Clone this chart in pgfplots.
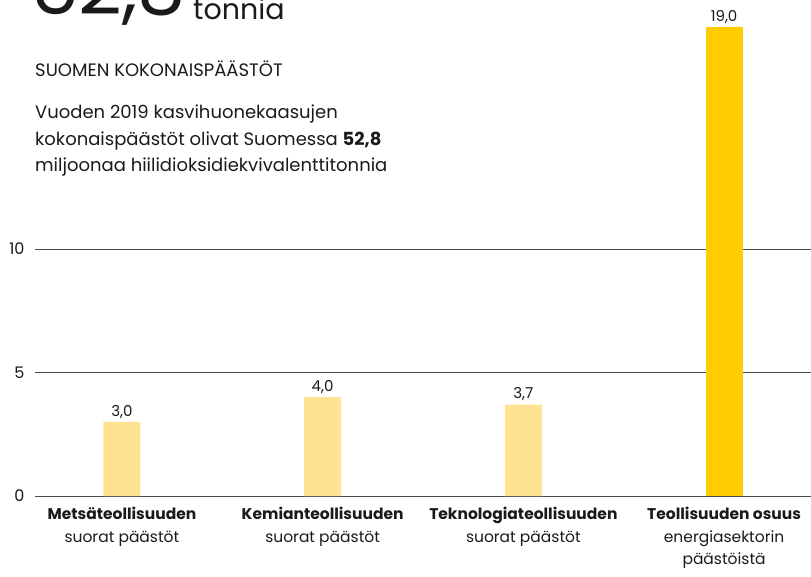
\documentclass[border=0pt]{standalone}
\usepackage{pgfplots}
\pgfplotsset{compat=1.18}
\usepackage{fontspec}
\setmainfont{Poppins}
\definecolor{barlight}{HTML}{FFE393}
\definecolor{barstrong}{HTML}{FFCC00}
\definecolor{txt}{HTML}{1A1A1A}
\begin{document}
\begin{tikzpicture}
\begin{axis}[
  at={(35bp,81bp)}, anchor=south west,
  scale only axis, width=776bp, height=494bp,
  xmin=-0.433, xmax=3.433, ymin=0, ymax=20,
  axis line style={draw=none},
  ytick={0,5,10}, ymajorgrids,
  grid style={black!70, line width=0.9bp},
  major tick length=0pt,
  xtick={0,1,2,3},
  xticklabels={{\textbf{Metsäteollisuuden}\\suorat päästöt},
               {\textbf{Kemianteollisuuden}\\suorat päästöt},
               {\textbf{Teknologiateollisuuden}\\suorat päästöt},
               {\textbf{Teollisuuden osuus}\\energiasektorin\\päästöistä}},
  xticklabel style={align=center, font=\fontsize{15.5bp}{22.5bp}\selectfont, text=txt, anchor=north, yshift=-8bp},
  yticklabel style={font=\fontsize{16bp}{17bp}\selectfont, text=txt, xshift=-7bp},
  /pgf/number format/assume math mode=true,
  clip=false,
  nodes near coords,
  nodes near coords style={font=\fontsize{15bp}{16bp}\selectfont, text=txt,
    /pgf/number format/.cd, fixed, fixed zerofill, precision=1, use comma},
]
\addplot[ybar, bar shift=0pt, bar width=37bp, fill=barlight, draw=none] coordinates {(0,3.0) (1,4.0) (2,3.7)};
\addplot[ybar, bar shift=0pt, bar width=37bp, fill=barstrong, draw=none] coordinates {(3,19.0)};
\end{axis}
\node[anchor=base west, inner sep=0pt, text=txt, font=\fontsize{76bp}{80bp}\selectfont] at (31bp,562bp) {52,8};
\node[anchor=base west, inner sep=0pt, text=txt, font=\fontsize{28.5bp}{34bp}\selectfont] at (193bp,557bp) {tonnia};
\node[anchor=base west, inner sep=0pt, text=txt, font=\fontsize{18bp}{20bp}\selectfont] at (35bp,500bp) {SUOMEN KOKONAISPÄÄSTÖT};
\node[anchor=base west, inner sep=0pt, text=txt, font=\fontsize{18bp}{20bp}\selectfont] at (35bp,458bp) {Vuoden 2019 kasvihuonekaasujen};
\node[anchor=base west, inner sep=0pt, text=txt, font=\fontsize{18bp}{20bp}\selectfont] at (35bp,431bp) {kokonaispäästöt olivat Suomessa \textbf{52,8}};
\node[anchor=base west, inner sep=0pt, text=txt, font=\fontsize{18bp}{20bp}\selectfont] at (35bp,405bp) {miljoonaa hiilidioksidiekvivalenttitonnia};
\pgfresetboundingbox
\useasboundingbox (0,0) rectangle (811bp,577bp);
\end{tikzpicture}
\end{document}
